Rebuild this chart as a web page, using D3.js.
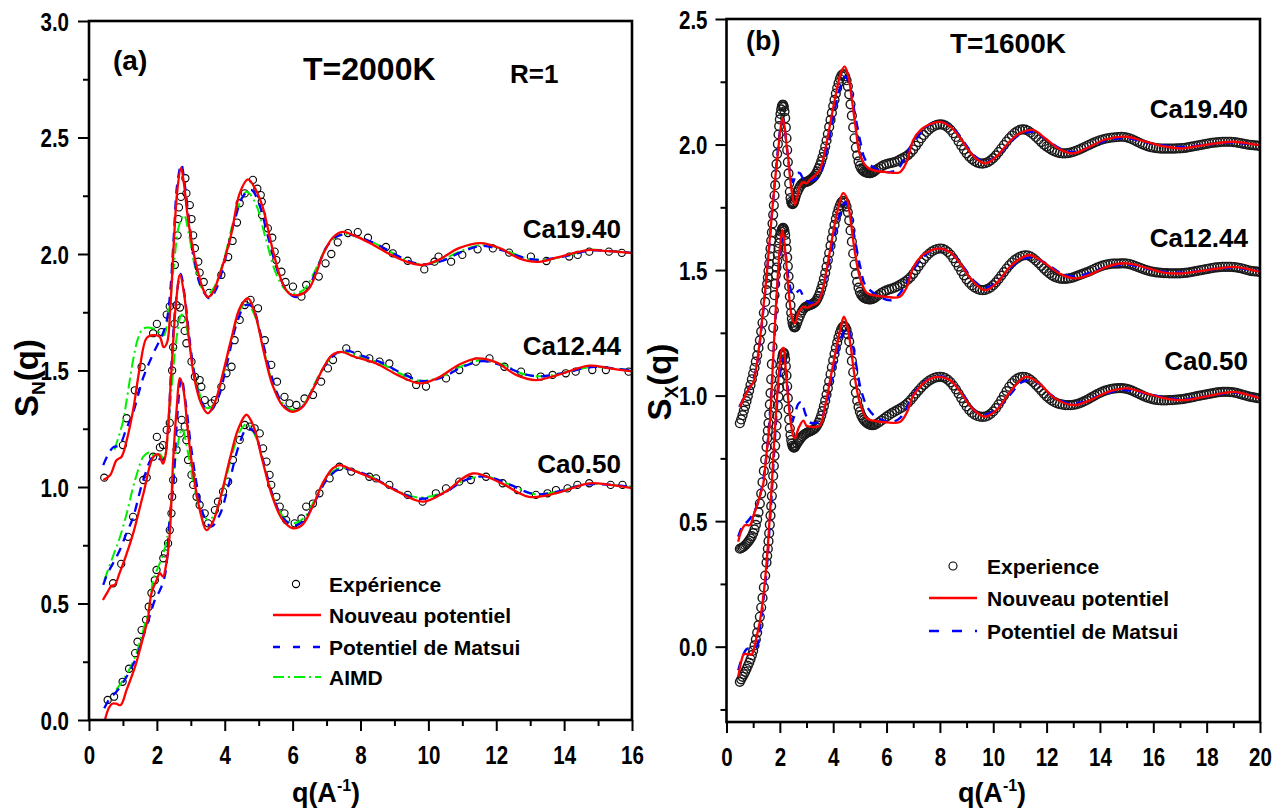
<!DOCTYPE html>
<html><head><meta charset="utf-8">
<script src="https://cdn.jsdelivr.net/npm/d3@7"></script>
<style>
body{margin:0;background:#fff}
svg{display:block}
text{font-family:"Liberation Sans",Arial,sans-serif;font-weight:bold;fill:#000}
</style></head>
<body><svg id="c" width="1281" height="812"></svg>
<script>
// ---------------- Panel (a) data : T=2000K, S_N(q) ----------------
const xTicksA = [0,2,4,6,8,10,12,14,16];
const yTicksA = [0,0.5,1.0,1.5,2.0,2.5,3.0];
const samplesA = ["Ca19.40","Ca12.44","Ca0.50"];

const expA19 = [[0.45,1.04],[1.0,1.18],[1.11,1.295],[1.35,1.415],[1.55,1.515],[1.89,1.66],[2.0,1.70],[2.14,1.665],[2.29,1.74],[2.38,1.775],[2.53,1.953],[2.61,2.08],[2.63,2.15],[2.65,2.20],[2.71,2.245],[2.84,2.325],[2.87,2.26],[2.97,2.21],[3.02,2.15],[3.07,2.08],[3.12,2.025],[3.22,1.967],[3.26,1.92],[3.38,1.88],[3.54,1.833],[3.9,1.91],[4.1,1.987],[4.23,2.056],[4.36,2.135],[4.44,2.218],[4.59,2.26],[4.83,2.318],[4.96,2.28],[5.06,2.253],[5.09,2.224],[5.1,2.167],[5.27,2.11],[5.4,2.07],[5.47,2.01],[5.52,1.974],[5.67,1.924],[5.79,1.88],[6.01,1.86],[6.26,1.817],[6.4,1.867],[6.77,1.903],[6.97,1.96],[7.14,2.0],[7.33,2.05],[7.63,2.09],[7.92,2.094],[8.22,2.07],[8.75,2.03],[8.95,2.003],[9.39,1.971],[9.88,1.934],[10.18,1.967],[10.3,1.989],[10.67,1.967],[11.0,1.996],[11.45,2.02],[11.9,2.024],[12.38,2.006],[13.02,1.989],[13.48,1.97],[14.15,1.989],[14.4,1.996],[14.74,2.01],[15.32,2.01],[15.7,2.005]];
const redA19 = [[0.42,1.03],[0.62,1.05],[0.81,1.115],[0.96,1.13],[1.11,1.20],[1.3,1.33],[1.5,1.515],[1.7,1.64],[1.89,1.652],[2.08,1.645],[2.2,1.60],[2.3,1.62],[2.4,1.78],[2.5,2.05],[2.6,2.27],[2.71,2.37],[2.8,2.30],[2.9,2.17],[3.05,2.03],[3.2,1.93],[3.36,1.85],[3.5,1.815],[3.65,1.835],[3.8,1.89],[4.0,1.98],[4.2,2.09],[4.44,2.26],[4.68,2.32],[4.9,2.28],[5.12,2.20],[5.41,2.02],[5.7,1.875],[5.9,1.83],[6.1,1.822],[6.3,1.83],[6.5,1.855],[6.7,1.92],[6.9,2.0],[7.18,2.07],[7.47,2.095],[7.8,2.08],[8.3,2.045],[8.85,2.0],[9.4,1.965],[9.83,1.953],[10.3,1.975],[10.9,2.025],[11.55,2.047],[12.1,2.025],[12.7,1.98],[13.2,1.966],[13.8,1.985],[14.7,2.017],[15.3,2.012],[16,2.004]];
const blueA19 = [[0.42,1.094],[0.6,1.15],[0.71,1.17],[0.9,1.18],[1.1,1.25],[1.3,1.32],[1.6,1.47],[1.9,1.575],[2.18,1.66],[2.3,1.72],[2.4,1.85],[2.5,2.08],[2.6,2.30],[2.72,2.385],[2.82,2.30],[2.95,2.14],[3.1,1.98],[3.3,1.86],[3.55,1.81],[3.75,1.85],[4.0,1.97],[4.3,2.15],[4.55,2.25],[4.78,2.275],[5.0,2.22],[5.3,2.06],[5.6,1.91],[5.85,1.84],[6.1,1.815],[6.4,1.84],[6.7,1.93],[7.0,2.03],[7.3,2.075],[7.6,2.085],[8.0,2.07],[8.5,2.04],[9.0,2.0],[9.5,1.965],[9.9,1.955],[10.4,1.97],[11.0,2.01],[11.6,2.035],[12.2,2.015],[12.8,1.985],[13.3,1.975],[14.0,1.99],[14.8,2.015],[15.4,2.012],[16,2.005]];
const greenA19 = [[0.75,1.16],[1.0,1.28],[1.11,1.373],[1.3,1.545],[1.45,1.64],[1.6,1.68],[1.89,1.68],[2.1,1.66],[2.2,1.65],[2.35,1.75],[2.5,1.95],[2.65,2.12],[2.8,2.167],[2.95,2.08],[3.1,1.96],[3.3,1.86],[3.5,1.83],[3.7,1.86],[4.0,1.99],[4.3,2.16],[4.64,2.267],[4.9,2.22],[5.2,2.07],[5.5,1.92],[5.8,1.845],[6.05,1.83],[6.35,1.85],[6.7,1.94],[7.0,2.03],[7.35,2.08],[7.6,2.085],[8.0,2.07],[8.5,2.04],[9.0,2.0],[9.5,1.965],[9.9,1.955],[10.4,1.975],[11.0,2.015],[11.6,2.04],[12.2,2.02],[12.8,1.985],[13.3,1.975],[14.0,1.99],[14.8,2.018],[15.4,2.012],[16,2.005]];

const expA12 = [[0.71,0.587],[0.95,0.67],[1.15,0.786],[1.3,0.872],[1.6,1.03],[1.7,1.04],[1.89,1.13],[2.0,1.215],[2.09,1.17],[2.18,1.18],[2.29,1.245],[2.38,1.275],[2.45,1.5],[2.48,1.6],[2.52,1.7],[2.58,1.78],[2.68,1.77],[2.73,1.72],[2.82,1.67],[2.87,1.617],[3.02,1.538],[3.12,1.473],[3.26,1.459],[3.31,1.43],[3.41,1.373],[3.61,1.359],[3.71,1.373],[3.9,1.43],[4.05,1.488],[4.2,1.516],[4.29,1.63],[4.44,1.717],[4.59,1.781],[4.76,1.803],[4.98,1.767],[5.18,1.63],[5.37,1.524],[5.54,1.452],[5.76,1.387],[5.91,1.359],[6.11,1.352],[6.35,1.38],[6.6,1.395],[6.84,1.452],[7.04,1.509],[7.19,1.545],[7.58,1.595],[7.92,1.567],[8.26,1.552],[8.56,1.538],[8.85,1.53],[9.39,1.474],[9.64,1.438],[9.93,1.431],[10.52,1.466],[10.91,1.502],[11.4,1.538],[11.8,1.552],[12.24,1.516],[12.73,1.495],[13.31,1.474],[13.66,1.481],[14.05,1.488],[14.34,1.495],[14.83,1.502],[15.23,1.502],[15.9,1.495]];
const redA12 = [[0.41,0.515],[0.55,0.55],[0.66,0.575],[0.76,0.58],[0.9,0.63],[1.1,0.71],[1.3,0.80],[1.6,0.97],[1.9,1.13],[2.05,1.14],[2.18,1.10],[2.26,1.14],[2.33,1.26],[2.45,1.55],[2.57,1.8],[2.68,1.91],[2.8,1.83],[2.95,1.63],[3.1,1.47],[3.3,1.36],[3.5,1.316],[3.7,1.36],[3.95,1.49],[4.2,1.64],[4.45,1.77],[4.69,1.81],[4.9,1.74],[5.15,1.58],[5.4,1.44],[5.7,1.35],[6.0,1.323],[6.3,1.345],[6.6,1.42],[6.9,1.51],[7.15,1.565],[7.43,1.58],[7.8,1.56],[8.46,1.53],[9.1,1.48],[9.74,1.445],[10.3,1.47],[10.9,1.525],[11.45,1.552],[12.0,1.535],[12.6,1.48],[13.17,1.459],[13.8,1.48],[14.74,1.521],[15.3,1.51],[16,1.496]];
const blueA12 = [[0.42,0.58],[0.55,0.63],[0.7,0.67],[0.91,0.73],[1.1,0.80],[1.3,0.87],[1.6,1.03],[1.9,1.13],[2.18,1.116],[2.3,1.2],[2.42,1.5],[2.55,1.78],[2.7,1.915],[2.82,1.82],[2.95,1.65],[3.1,1.49],[3.3,1.37],[3.55,1.325],[3.8,1.38],[4.05,1.52],[4.35,1.7],[4.6,1.78],[4.8,1.775],[5.05,1.66],[5.35,1.49],[5.65,1.37],[5.95,1.325],[6.25,1.34],[6.6,1.42],[6.95,1.52],[7.3,1.575],[7.6,1.585],[8.0,1.565],[8.6,1.535],[9.2,1.49],[9.8,1.455],[10.4,1.47],[11.0,1.515],[11.6,1.54],[12.2,1.52],[12.8,1.485],[13.3,1.475],[14.0,1.49],[14.8,1.515],[15.4,1.51],[16,1.50]];
const greenA12 = [[0.45,0.6],[0.6,0.66],[0.75,0.72],[0.9,0.78],[1.1,0.88],[1.3,1.0],[1.4,1.05],[1.6,1.13],[1.8,1.15],[1.94,1.13],[2.1,1.14],[2.2,1.12],[2.32,1.22],[2.45,1.45],[2.6,1.66],[2.73,1.74],[2.85,1.70],[3.0,1.58],[3.2,1.43],[3.45,1.34],[3.65,1.35],[3.9,1.45],[4.2,1.63],[4.45,1.76],[4.65,1.79],[4.9,1.73],[5.15,1.59],[5.4,1.45],[5.7,1.36],[6.0,1.33],[6.3,1.35],[6.6,1.43],[6.9,1.51],[7.2,1.565],[7.5,1.58],[8.0,1.56],[8.6,1.53],[9.2,1.485],[9.8,1.455],[10.4,1.475],[11.0,1.52],[11.6,1.545],[12.2,1.525],[12.8,1.485],[13.3,1.475],[14.0,1.49],[14.8,1.515],[15.4,1.51],[16,1.50]];

const expA05 = [[0.55,0.086],[0.74,0.10],[0.99,0.164],[1.18,0.22],[1.36,0.287],[1.43,0.336],[1.55,0.386],[1.68,0.43],[1.76,0.486],[1.84,0.545],[1.94,0.60],[1.99,0.644],[2.19,0.694],[2.24,0.715],[2.33,0.758],[2.38,0.815],[2.43,0.887],[2.45,0.958],[2.48,1.03],[2.58,1.159],[2.68,1.23],[2.73,1.288],[2.82,1.259],[2.87,1.201],[2.92,1.116],[3.02,1.052],[3.07,1.009],[3.17,0.958],[3.26,0.923],[3.41,0.887],[3.51,0.844],[3.71,0.901],[3.8,0.937],[3.95,0.98],[4.1,1.023],[4.24,1.116],[4.44,1.202],[4.59,1.266],[4.74,1.259],[4.88,1.252],[5.03,1.23],[5.13,1.166],[5.23,1.109],[5.32,1.052],[5.37,1.009],[5.52,0.958],[5.62,0.916],[5.76,0.887],[5.81,0.858],[6.06,0.844],[6.26,0.865],[6.4,0.916],[6.6,0.929],[6.79,0.973],[7.09,1.037],[7.38,1.087],[7.73,1.066],[8.26,1.044],[8.46,1.037],[8.85,1.009],[9.39,0.966],[9.83,0.937],[10.22,0.973],[10.52,0.994],[10.91,1.023],[11.25,1.03],[11.7,1.044],[12.19,1.016],[12.63,0.987],[13.17,0.966],[13.51,0.973],[13.76,0.987],[14.1,0.994],[14.39,1.009],[14.74,1.016],[15.37,1.009],[15.72,1.009]];
const redA05 = [[0.47,0.0],[0.58,0.05],[0.68,0.07],[0.8,0.07],[0.93,0.064],[1.11,0.13],[1.36,0.23],[1.55,0.33],[1.74,0.44],[1.84,0.544],[1.99,0.60],[2.09,0.63],[2.18,0.615],[2.28,0.673],[2.38,0.80],[2.43,0.944],[2.48,1.116],[2.58,1.33],[2.68,1.467],[2.78,1.42],[2.92,1.23],[3.1,1.03],[3.3,0.88],[3.46,0.815],[3.65,0.85],[3.9,0.97],[4.15,1.12],[4.4,1.25],[4.64,1.31],[4.85,1.26],[5.1,1.12],[5.4,0.96],[5.7,0.86],[6.01,0.823],[6.3,0.84],[6.6,0.92],[6.9,1.02],[7.18,1.08],[7.38,1.094],[7.8,1.07],[8.46,1.03],[9.1,0.98],[9.83,0.937],[10.5,0.98],[11.3,1.058],[12.1,1.02],[12.97,0.958],[13.8,0.975],[14.74,1.016],[15.3,1.01],[16,0.995]];
const blueA05 = [[0.45,0.05],[0.6,0.09],[0.8,0.12],[1.0,0.16],[1.2,0.21],[1.4,0.27],[1.6,0.36],[1.8,0.45],[1.94,0.515],[2.1,0.56],[2.25,0.63],[2.38,0.87],[2.48,1.0],[2.6,1.3],[2.72,1.47],[2.85,1.36],[3.0,1.18],[3.2,0.99],[3.4,0.87],[3.6,0.83],[3.85,0.88],[4.1,1.0],[4.4,1.17],[4.65,1.25],[4.85,1.24],[5.1,1.13],[5.4,0.97],[5.7,0.87],[6.05,0.835],[6.35,0.86],[6.7,0.95],[7.0,1.03],[7.35,1.075],[7.7,1.075],[8.3,1.045],[9.0,0.99],[9.7,0.95],[10.4,0.97],[11.1,1.03],[11.7,1.045],[12.4,1.01],[13.1,0.97],[13.8,0.98],[14.6,1.01],[15.3,1.01],[16,1.0]];
const greenA05 = [[0.8,0.13],[1.0,0.17],[1.3,0.25],[1.55,0.36],[1.78,0.49],[1.89,0.60],[2.05,0.66],[2.18,0.71],[2.3,0.78],[2.45,0.98],[2.6,1.17],[2.75,1.25],[2.9,1.16],[3.1,1.0],[3.3,0.9],[3.5,0.86],[3.7,0.88],[3.95,0.99],[4.2,1.13],[4.45,1.24],[4.65,1.27],[4.9,1.22],[5.2,1.07],[5.5,0.93],[5.8,0.86],[6.05,0.845],[6.35,0.87],[6.7,0.96],[7.0,1.04],[7.35,1.08],[7.7,1.075],[8.3,1.045],[9.0,0.99],[9.7,0.955],[10.4,0.975],[11.1,1.03],[11.7,1.045],[12.4,1.01],[13.1,0.97],[13.8,0.98],[14.6,1.012],[15.3,1.01],[16,1.0]];

// ---------------- Panel (b) data : T=1600K, S_X(q) ----------------
const xTicksB = [0,2,4,6,8,10,12,14,16,18,20];
const yTicksB = [0.0,0.5,1.0,1.5,2.0,2.5];
const samplesB = ["Ca19.40","Ca12.44","Ca0.50"];
// experimental sampling: [first q, step] of each block of values below
const expGridB = [[0.5,0.05],[1.525,0.025],[2.65,0.05],[5.7,0.1]];
const expB19 = [
 [0.89,0.905,0.922,0.94,0.958,0.978,0.998,1.02,1.042,1.065,1.088,1.11,1.135,1.16,1.19,1.22,1.255,1.29,1.33,1.373,1.42],
 [1.445,1.47,1.497,1.525,1.555,1.585,1.617,1.65,1.685,1.72,1.758,1.797,1.838,1.88,1.922,1.963,2.002,2.04,2.073,2.1,2.122,2.14,2.152,2.158,2.158,2.15,2.132,2.105,2.068,2.025,1.978,1.93,1.885,1.845,1.812,1.787,1.772,1.765,1.763,1.765,1.77,1.778,1.787,1.797],
 [1.81,1.822,1.832,1.84,1.845,1.848,1.85,1.851,1.853,1.856,1.86,1.864,1.869,1.875,1.883,1.893,1.905,1.918,1.933,1.95,1.97,1.992,2.016,2.042,2.07,2.098,2.126,2.153,2.178,2.203,2.225,2.245,2.262,2.274,2.28,2.28,2.272,2.256,2.232,2.2,2.16,2.115,2.068,2.025,1.988,1.957,1.933,1.916,1.905,1.898,1.893,1.89,1.888,1.887,1.886,1.886,1.888,1.89,1.894,1.899],
 [1.905,1.912,1.918,1.922,1.925,1.927,1.93,1.934,1.94,1.945,
  1.951,1.958,1.968,1.98,1.995,2.01,2.025,2.038,2.05,2.06,
  2.068,2.074,2.078,2.08,2.079,2.075,2.068,2.058,2.045,2.03,
  2.013,1.996,1.98,1.965,1.952,1.942,1.934,1.928,1.925,1.924,
  1.926,1.93,1.937,1.946,1.957,1.97,1.984,1.998,2.012,2.025,
  2.036,2.046,2.053,2.058,2.06,2.059,2.055,2.048,2.04,2.03,
  2.02,2.01,2.0,1.992,1.985,1.978,1.973,1.969,1.966,1.965,
  1.965,1.966,1.968,1.971,1.975,1.979,1.984,1.989,1.994,1.999,
  2.004,2.009,2.013,2.017,2.02,2.023,2.025,2.027,2.028,2.029,
  2.03,2.031,2.03,2.028,2.025,2.021,2.016,2.011,2.006,2.001,
  1.997,1.993,1.99,1.988,1.986,1.985,1.984,1.984,1.984,1.984,
  1.984,1.984,1.985,1.985,1.986,1.987,1.989,1.991,1.993,1.995,
  1.997,1.999,2.001,2.003,2.005,2.007,2.008,2.009,2.01,2.011,
  2.011,2.011,2.011,2.01,2.009,2.007,2.005,2.003,2.001,1.999,
  1.998,1.997,1.996,1.995]
];
const expB12 = [
 [0.39,0.392,0.395,0.399,0.404,0.41,0.416,0.423,0.431,0.44,0.452,0.467,0.485,0.507,0.535,0.57,0.61,0.655,0.7,0.745,0.795],
 [0.83,0.86,0.89,0.925,0.965,1.01,1.065,1.125,1.195,1.27,1.34,1.40,1.445,1.48,1.51,1.535,1.56,1.585,1.607,1.626,1.641,1.653,1.661,1.666,1.668,1.665,1.656,1.64,1.615,1.585,1.55,1.515,1.475,1.435,1.395,1.36,1.33,1.307,1.29,1.28,1.274,1.272,1.273,1.277],
 [1.29,1.305,1.318,1.33,1.34,1.347,1.352,1.355,1.357,1.359,1.361,1.363,1.366,1.37,1.376,1.385,1.396,1.41,1.426,1.444,1.465,1.488,1.513,1.54,1.568,1.597,1.626,1.654,1.68,1.704,1.725,1.743,1.758,1.769,1.775,1.775,1.768,1.753,1.73,1.698,1.658,1.613,1.566,1.522,1.484,1.453,1.43,1.413,1.402,1.395,1.39,1.387,1.385,1.384,1.383,1.383,1.384,1.386,1.389,1.393],
 [1.40,1.408,1.414,1.419,1.423,1.426,1.43,1.435,1.441,1.447,
  1.454,1.462,1.472,1.485,1.5,1.515,1.53,1.544,1.556,1.566,
  1.574,1.58,1.584,1.586,1.585,1.58,1.572,1.561,1.547,1.531,
  1.514,1.496,1.479,1.463,1.45,1.439,1.431,1.425,1.421,1.42,
  1.421,1.425,1.431,1.44,1.451,1.464,1.478,1.492,1.506,1.519,
  1.53,1.54,1.547,1.553,1.557,1.559,1.558,1.554,1.547,1.538,
  1.528,1.517,1.506,1.496,1.487,1.479,1.473,1.469,1.466,1.465,
  1.465,1.466,1.468,1.471,1.475,1.479,1.483,1.487,1.491,1.495,
  1.5,1.505,1.51,1.514,1.518,1.521,1.523,1.525,1.526,1.526,
  1.526,1.527,1.527,1.526,1.524,1.521,1.517,1.513,1.509,1.505,
  1.501,1.498,1.495,1.493,1.491,1.49,1.489,1.488,1.488,1.487,
  1.487,1.487,1.487,1.487,1.488,1.489,1.49,1.492,1.494,1.496,
  1.498,1.5,1.502,1.504,1.506,1.508,1.51,1.511,1.512,1.513,
  1.513,1.513,1.513,1.512,1.511,1.509,1.507,1.504,1.501,1.498,
  1.496,1.495,1.494,1.493]
];
const expB05 = [
 [-0.14,-0.13,-0.12,-0.11,-0.10,-0.088,-0.076,-0.064,-0.05,-0.034,-0.016,0.005,0.029,0.056,0.086,0.119,0.156,0.194,0.236,0.283,0.335],
 [0.362,0.39,0.42,0.452,0.486,0.522,0.56,0.6,0.64,0.68,0.72,0.76,0.8,0.84,0.88,0.92,0.96,0.995,1.03,1.063,1.093,1.12,1.142,1.158,1.168,1.17,1.163,1.145,1.117,1.08,1.037,0.99,0.945,0.905,0.87,0.843,0.823,0.809,0.8,0.795,0.793,0.794,0.797,0.802],
 [0.81,0.818,0.826,0.833,0.839,0.844,0.848,0.851,0.854,0.856,0.858,0.861,0.864,0.868,0.874,0.882,0.892,0.905,0.92,0.938,0.958,0.98,1.004,1.03,1.057,1.085,1.113,1.14,1.166,1.19,1.212,1.232,1.25,1.264,1.273,1.277,1.274,1.263,1.244,1.216,1.18,1.138,1.093,1.05,1.012,0.98,0.955,0.936,0.922,0.911,0.903,0.897,0.892,0.888,0.885,0.883,0.882,0.882,0.883,0.886],
 [0.892,0.9,0.908,0.916,0.923,0.93,0.936,0.942,0.948,0.954,
  0.962,0.971,0.982,0.995,1.008,1.02,1.032,1.043,1.052,1.06,
  1.066,1.071,1.074,1.075,1.074,1.07,1.063,1.053,1.04,1.025,
  1.008,0.99,0.973,0.957,0.943,0.932,0.924,0.919,0.916,0.915,
  0.916,0.92,0.927,0.937,0.95,0.965,0.982,1.0,1.018,1.035,
  1.049,1.06,1.068,1.073,1.075,1.074,1.07,1.063,1.054,1.043,
  1.032,1.02,1.008,0.997,0.988,0.98,0.974,0.969,0.966,0.964,
  0.962,0.962,0.962,0.963,0.965,0.968,0.972,0.977,0.982,0.988,
  0.994,1.0,1.006,1.011,1.016,1.02,1.023,1.026,1.028,1.029,
  1.03,1.03,1.029,1.027,1.024,1.02,1.015,1.01,1.005,1.0,
  0.995,0.991,0.988,0.985,0.983,0.982,0.981,0.981,0.981,0.982,
  0.982,0.983,0.984,0.985,0.986,0.988,0.99,0.992,0.994,0.997,
  0.999,1.001,1.003,1.005,1.007,1.009,1.011,1.013,1.014,1.015,
  1.015,1.015,1.014,1.013,1.011,1.008,1.005,1.002,0.999,0.996,
  0.994,0.992,0.99,0.989]
];
const redB19 = [[0.5,0.955],[0.7,1.0],[0.88,1.035],[1.0,1.05],[1.1,1.1],[1.25,1.22],[1.4,1.37],[1.5,1.473],[1.62,1.62],[1.75,1.78],[1.85,1.89],[1.94,1.98],[2.02,2.06],[2.1,2.104],[2.18,2.07],[2.25,2.0],[2.31,1.95],[2.4,1.85],[2.5,1.78],[2.57,1.76],[2.65,1.79],[2.75,1.835],[2.88,1.85],[3.0,1.845],[3.13,1.86],[3.3,1.875],[3.5,1.90],[3.7,1.98],[3.9,2.09],[4.1,2.2],[4.3,2.29],[4.43,2.31],[4.55,2.28],[4.7,2.18],[4.85,2.06],[5.0,1.96],[5.25,1.912],[5.5,1.898],[6.0,1.89],[6.5,1.89],[6.75,1.93],[7.0,2.018],[7.3,2.06],[7.6,2.08],[8.0,2.09],[8.4,2.07],[8.8,2.02],[9.2,1.96],[9.68,1.925],[10.1,1.95],[10.6,2.01],[11.0,2.045],[11.49,2.058],[12.0,2.02],[12.5,1.98],[12.99,1.965],[13.5,1.985],[14.2,2.02],[14.99,2.031],[15.6,2.015],[16.3,1.995],[17.1,1.985],[18.0,2.0],[18.98,2.011],[19.5,2.005],[20,1.998]];
const blueB19 = [[0.48,0.955],[0.7,1.0],[0.9,1.04],[1.1,1.1],[1.3,1.26],[1.5,1.47],[1.7,1.72],[1.9,1.95],[2.0,2.05],[2.12,2.10],[2.25,2.0],[2.4,1.88],[2.5,1.85],[2.62,1.886],[2.75,1.886],[2.9,1.86],[3.06,1.855],[3.3,1.86],[3.5,1.88],[3.7,1.95],[3.9,2.05],[4.1,2.16],[4.3,2.24],[4.45,2.27],[4.6,2.24],[4.8,2.13],[5.0,2.02],[5.2,1.94],[5.5,1.91],[5.8,1.895],[6.1,1.89],[6.4,1.9],[6.7,1.95],[7.0,2.01],[7.4,2.06],[7.7,2.085],[8.05,2.09],[8.5,2.065],[8.9,2.01],[9.3,1.955],[9.7,1.93],[10.1,1.95],[10.6,2.005],[11.0,2.04],[11.5,2.05],[12.0,2.02],[12.5,1.985],[13.0,1.97],[13.5,1.985],[14.2,2.015],[15.0,2.025],[15.6,2.012],[16.3,1.997],[17.1,1.99],[18.0,2.0],[19.0,2.008],[19.5,2.003],[20,1.997]];
const redB12 = [[0.44,0.418],[0.55,0.46],[0.69,0.484],[0.88,0.484],[1.0,0.52],[1.13,0.557],[1.25,0.6],[1.38,0.65],[1.5,0.77],[1.63,0.90],[1.75,1.15],[1.85,1.35],[1.95,1.52],[2.03,1.62],[2.1,1.66],[2.18,1.6],[2.3,1.45],[2.42,1.33],[2.5,1.295],[2.57,1.288],[2.7,1.33],[2.88,1.354],[3.05,1.35],[3.2,1.36],[3.38,1.367],[3.55,1.4],[3.75,1.5],[3.95,1.62],[4.15,1.73],[4.37,1.806],[4.5,1.79],[4.65,1.7],[4.8,1.58],[5.0,1.47],[5.25,1.41],[5.5,1.40],[6.0,1.393],[6.5,1.394],[6.75,1.43],[7.0,1.51],[7.3,1.555],[7.6,1.575],[8.0,1.586],[8.4,1.57],[8.8,1.52],[9.2,1.46],[9.68,1.42],[10.1,1.445],[10.6,1.51],[11.0,1.545],[11.37,1.56],[11.9,1.53],[12.5,1.485],[13.1,1.467],[13.7,1.485],[14.3,1.515],[15.0,1.527],[15.7,1.51],[16.4,1.49],[17.1,1.487],[18.0,1.5],[19.0,1.513],[19.5,1.505],[20,1.493]];
const blueB12 = [[0.44,0.438],[0.6,0.48],[0.8,0.5],[1.0,0.53],[1.2,0.58],[1.4,0.68],[1.55,0.82],[1.7,1.05],[1.85,1.33],[1.98,1.53],[2.1,1.625],[2.2,1.58],[2.35,1.45],[2.5,1.4],[2.62,1.41],[2.75,1.42],[2.9,1.39],[3.1,1.37],[3.3,1.37],[3.5,1.39],[3.7,1.46],[3.9,1.56],[4.1,1.66],[4.3,1.74],[4.45,1.77],[4.6,1.74],[4.8,1.63],[5.0,1.52],[5.2,1.44],[5.5,1.41],[5.8,1.39],[6.15,1.38],[6.45,1.4],[6.75,1.45],[7.0,1.5],[7.4,1.555],[7.7,1.58],[8.05,1.585],[8.5,1.56],[8.9,1.51],[9.3,1.455],[9.7,1.43],[10.1,1.45],[10.6,1.505],[11.0,1.54],[11.5,1.55],[12.0,1.525],[12.5,1.49],[13.0,1.475],[13.5,1.485],[14.2,1.51],[15.0,1.522],[15.6,1.51],[16.3,1.495],[17.1,1.49],[18.0,1.5],[19.0,1.51],[19.5,1.503],[20,1.495]];
const redB05 = [[0.44,-0.12],[0.55,-0.06],[0.65,-0.03],[0.8,-0.03],[0.95,-0.03],[1.05,0.0],[1.13,0.04],[1.25,0.1],[1.38,0.2],[1.5,0.33],[1.6,0.48],[1.7,0.65],[1.8,0.84],[1.9,1.0],[2.0,1.13],[2.08,1.185],[2.14,1.19],[2.2,1.13],[2.3,1.0],[2.4,0.9],[2.5,0.84],[2.57,0.83],[2.7,0.87],[2.88,0.90],[3.0,0.88],[3.13,0.876],[3.3,0.875],[3.5,0.88],[3.7,0.96],[3.9,1.07],[4.1,1.18],[4.3,1.28],[4.4,1.314],[4.5,1.29],[4.65,1.2],[4.8,1.08],[5.0,0.97],[5.25,0.91],[5.5,0.90],[6.0,0.893],[6.5,0.895],[6.75,0.93],[7.0,1.0],[7.3,1.04],[7.6,1.065],[8.0,1.075],[8.4,1.06],[8.8,1.01],[9.2,0.95],[9.68,0.916],[10.1,0.94],[10.6,1.01],[11.2,1.075],[11.7,1.05],[12.3,0.99],[13.0,0.962],[13.7,0.985],[14.3,1.015],[15.0,1.029],[15.7,1.01],[16.4,0.99],[17.1,0.982],[18.0,0.997],[19.0,1.015],[19.5,1.005],[20,0.989]];
const blueB05 = [[0.44,-0.094],[0.6,-0.04],[0.75,-0.01],[0.88,-0.007],[1.0,-0.005],[1.13,0.0],[1.25,0.07],[1.4,0.2],[1.5,0.3],[1.6,0.45],[1.7,0.62],[1.8,0.8],[1.9,0.97],[2.0,1.08],[2.1,1.14],[2.17,1.15],[2.25,1.09],[2.35,0.96],[2.45,0.9],[2.55,0.92],[2.68,0.965],[2.8,0.975],[2.95,0.93],[3.1,0.895],[3.3,0.89],[3.5,0.9],[3.7,0.95],[3.9,1.04],[4.1,1.14],[4.3,1.23],[4.5,1.27],[4.65,1.24],[4.85,1.13],[5.05,1.02],[5.3,0.95],[5.6,0.915],[5.9,0.9],[6.2,0.895],[6.5,0.91],[6.8,0.96],[7.1,1.02],[7.5,1.06],[7.8,1.075],[8.1,1.075],[8.5,1.05],[8.9,1.0],[9.3,0.94],[9.7,0.925],[10.1,0.945],[10.6,1.0],[11.1,1.055],[11.6,1.055],[12.2,1.0],[12.8,0.97],[13.4,0.975],[14.1,1.005],[14.9,1.022],[15.6,1.012],[16.3,0.995],[17.1,0.985],[18.0,0.997],[19.0,1.012],[19.5,1.005],[20,0.99]];

// ---------------- drawing ----------------
const svg = d3.select("#c");
const RED="#ff0000", BLUE="#0000ff", GREEN="#00ee00";

function hasFont(name){
  const c=document.createElement("canvas").getContext("2d");
  const s="0123456789.0123456789";
  c.font="bold 40px monospace"; const a=c.measureText(s).width;
  c.font=`bold 40px "${name}", monospace`; const b=c.measureText(s).width;
  return Math.abs(a-b)>0.5;
}
const NARROW = hasFont("Liberation Sans Narrow");
function narrowize(sel){
  if(NARROW){ sel.style("font-family",'"Liberation Sans Narrow"'); return; }
  sel.each(function(){ const w=this.getComputedTextLength(); d3.select(this).attr("textLength",w*0.82).attr("lengthAdjust","spacingAndGlyphs"); });
}
function expand(blocks){
  return blocks.flatMap((vals,k)=>vals.map((v,i)=>[expGridB[k][0]+i*expGridB[k][1], v]));
}

function drawPanel(cfg){
  const x=d3.scaleLinear().domain(cfg.xDomain).range([cfg.left,cfg.right]);
  const y=d3.scaleLinear().domain(cfg.yDomain).range([cfg.bottom,cfg.top]);
  const id="clip"+cfg.name;
  svg.append("clipPath").attr("id",id).append("rect")
    .attr("x",cfg.left).attr("y",cfg.top).attr("width",cfg.right-cfg.left).attr("height",cfg.bottom-cfg.top);
  const plot=svg.append("g").attr("clip-path",`url(#${id})`);
  cfg.exp.forEach(set=>{
    plot.append("g").selectAll("circle").data(set).join("circle")
      .attr("cx",d=>x(d[0])).attr("cy",d=>y(d[1])).attr("r",cfg.r)
      .attr("fill","none").attr("stroke",cfg.expColor).attr("stroke-width",cfg.expSW);
  });
  const line=d3.line().x(d=>x(d[0])).y(d=>y(d[1])).curve(d3.curveCatmullRom.alpha(0.5));
  cfg.lines.forEach(l=>{
    plot.append("path").datum(l.data).attr("d",line).attr("fill","none")
      .attr("stroke",l.color).attr("stroke-width",l.width)
      .attr("stroke-dasharray",l.dash||null).attr("stroke-linejoin","round");
  });
  // axes
  const minorX=d3.range(cfg.xDomain[0],cfg.xDomain[1]+0.001,1).filter(v=>!cfg.xTicks.includes(v));
  const minorY=d3.range(cfg.yTicks[0]-0.25,cfg.yDomain[1]+0.001,0.5).filter(v=>v>=cfg.yDomain[0]-1e-6);
  const gxm=svg.append("g").attr("transform",`translate(0,${cfg.bottom})`)
    .call(d3.axisBottom(x).tickValues(minorX).tickSize(6).tickFormat(""));
  const gx=svg.append("g").attr("transform",`translate(0,${cfg.bottom})`)
    .call(d3.axisBottom(x).tickValues(cfg.xTicks).tickSize(11).tickFormat(d3.format("d")));
  const gym=svg.append("g").attr("transform",`translate(${cfg.left},0)`)
    .call(d3.axisLeft(y).tickValues(minorY).tickSize(6).tickFormat(""));
  const gy=svg.append("g").attr("transform",`translate(${cfg.left},0)`)
    .call(d3.axisLeft(y).tickValues(cfg.yTicks).tickSize(11).tickFormat(d3.format(".1f")));
  [gxm,gx,gym,gy].forEach(g=>{ g.select(".domain").remove(); g.selectAll("line").attr("stroke","#000").attr("stroke-width",2); });
  gx.selectAll("text").attr("y",44).attr("dy",null).style("font-size","25px").style("font-family",'"Liberation Sans"').style("font-weight","bold").attr("fill","#000");
  gy.selectAll("text").attr("x",-cfg.ylabGap).attr("dy","0.36em").style("font-size","25px").style("font-family",'"Liberation Sans"').style("font-weight","bold").attr("fill","#000");
  gx.attr("font-family",null).attr("font-size",null);
  gy.attr("font-family",null).attr("font-size",null);
  narrowize(gx.selectAll("text")); narrowize(gy.selectAll("text"));
  // frame
  svg.append("rect").attr("x",cfg.left).attr("y",cfg.top).attr("width",cfg.right-cfg.left).attr("height",cfg.bottom-cfg.top)
    .attr("fill","none").attr("stroke","#000").attr("stroke-width",2.6);
  // sample labels
  cfg.labels.forEach((t,i)=>{
    svg.append("text").attr("x",cfg.labelX).attr("y",cfg.labelY[i]).attr("text-anchor","end").style("font-size","26px").text(t);
  });
  return {x,y};
}

// Panel (a)
drawPanel({
  name:"A", xDomain:[0,16], yDomain:[0,3], left:89, right:632, top:21, bottom:720,
  xTicks:xTicksA, yTicks:yTicksA, ylabGap:20, r:3.6, expColor:"#000", expSW:1.1,
  exp:[expA19,expA12,expA05],
  lines:[
    {data:greenA19,color:GREEN,width:2,dash:"11,4,2,4"},{data:greenA12,color:GREEN,width:2,dash:"11,4,2,4"},{data:greenA05,color:GREEN,width:2,dash:"11,4,2,4"},
    {data:blueA19,color:BLUE,width:2.3,dash:"9,7"},{data:blueA12,color:BLUE,width:2.3,dash:"9,7"},{data:blueA05,color:BLUE,width:2.3,dash:"9,7"},
    {data:redA19,color:RED,width:2.3},{data:redA12,color:RED,width:2.3},{data:redA05,color:RED,width:2.3}
  ],
  labels:samplesA, labelX:621, labelY:[238,355,473]
});

// Panel (b)
drawPanel({
  name:"B", xDomain:[0,20], yDomain:[-0.3,2.5], left:726.5, right:1260, top:19, bottom:722,
  xTicks:xTicksB, yTicks:yTicksB, ylabGap:19, r:4.4, expColor:"#1a1a1a", expSW:1.4,
  exp:[expand(expB19),expand(expB12),expand(expB05)],
  lines:[
    {data:blueB19,color:BLUE,width:2.4,dash:"9,7"},{data:blueB12,color:BLUE,width:2.4,dash:"9,7"},{data:blueB05,color:BLUE,width:2.4,dash:"9,7"},
    {data:redB19,color:RED,width:2.3},{data:redB12,color:RED,width:2.3},{data:redB05,color:RED,width:2.3}
  ],
  labels:samplesB, labelX:1248, labelY:[118,247,370]
});

// titles & annotations
function txt(x,y,size,str,anchor){ return svg.append("text").attr("x",x).attr("y",y).style("font-size",size+"px").attr("text-anchor",anchor||"start").text(str); }
txt(113,70,28,"(a)");
txt(303,80,32,"T=2000K");
txt(510,83,26,"R=1");
txt(746,50,27,"(b)");
txt(950,53,28,"T=1600K");

// axis titles
function yTitle(xb,yc,sub){
  const t=svg.append("text").attr("transform",`translate(${xb},${yc}) rotate(-90)`).attr("text-anchor","middle").style("font-size","33px");
  t.append("tspan").text("S");
  t.append("tspan").attr("dy",7).style("font-size","19px").text(sub);
  t.append("tspan").attr("dy",-7).text("(q)");
}
yTitle(38,378,"N");
yTitle(671,382,"X");
function xTitle(xc,yb){
  const t=svg.append("text").attr("x",xc).attr("y",yb).attr("text-anchor","middle").style("font-size","27px");
  t.append("tspan").text("q(A");
  t.append("tspan").attr("dy",-11).style("font-size","16px").text("-1");
  t.append("tspan").attr("dy",11).text(")");
}
xTitle(326,802);
xTitle(992,802);

// legends
function legend(items,x0,x1,xt,ys,cx){
  items.forEach((it,i)=>{
    const yy=ys[i];
    if(it.type==="circle"){
      svg.append("circle").attr("cx",cx).attr("cy",yy).attr("r",it.r).attr("fill","none").attr("stroke","#000").attr("stroke-width",1.1);
    } else {
      svg.append("line").attr("x1",x0).attr("x2",x1).attr("y1",yy).attr("y2",yy)
        .attr("stroke",it.color).attr("stroke-width",it.width).attr("stroke-dasharray",it.dash||null);
    }
    txt(xt,yy+8,21,it.label);
  });
}
legend([
  {type:"circle",r:3.6,label:"Expérience"},
  {color:RED,width:2.4,label:"Nouveau potentiel"},
  {color:BLUE,width:2.4,dash:"7,13",label:"Potentiel de Matsui"},
  {color:GREEN,width:2.2,dash:"11,4,2,4",label:"AIMD"}
],273,321,329,[584,615,647,677],296);
legend([
  {type:"circle",r:4,label:"Experience"},
  {color:RED,width:2.4,label:"Nouveau potentiel"},
  {color:BLUE,width:2.4,dash:"10,13",label:"Potentiel de Matsui"}
],929,977,987,[566,598,631],953);
</script></body></html>
